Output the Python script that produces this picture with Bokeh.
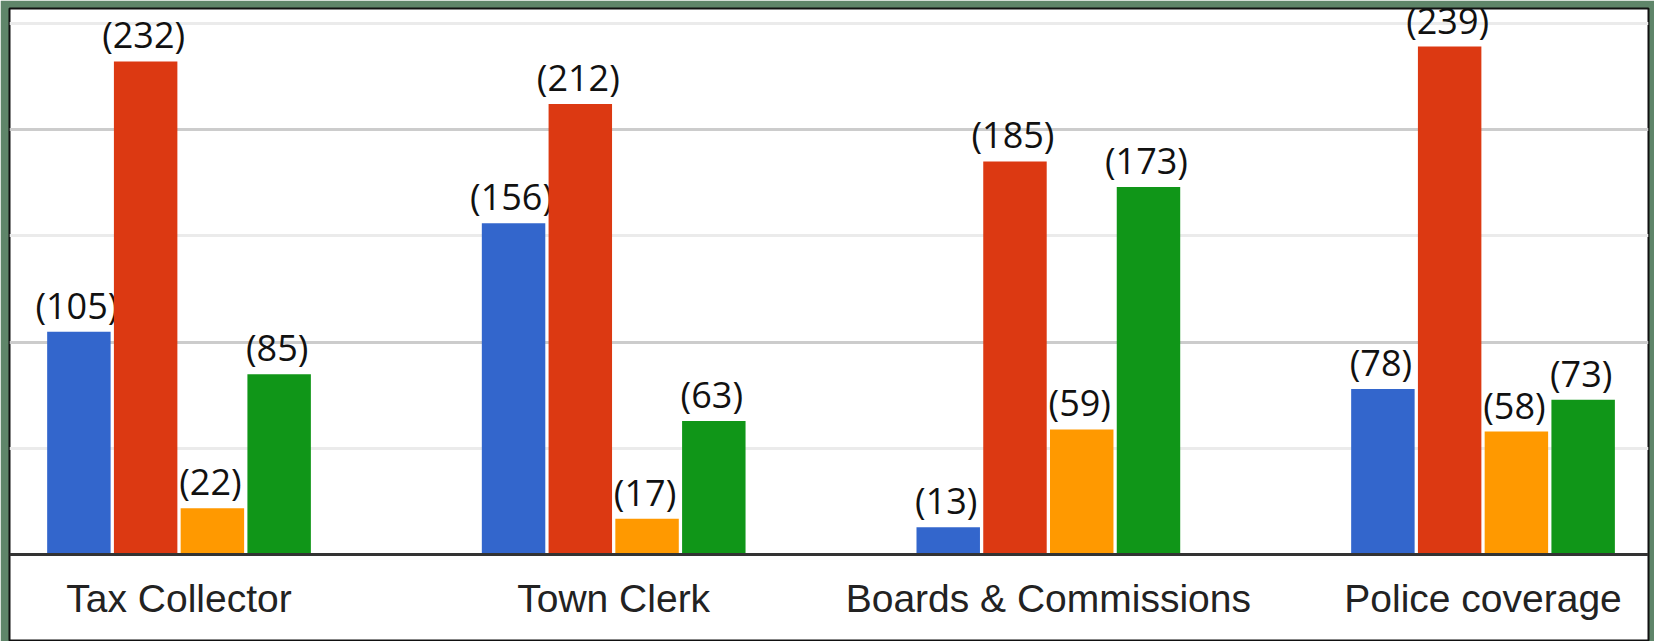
from bokeh.plotting import figure
from bokeh.models import Range1d, LinearAxis, FixedTicker, Grid, ColumnDataSource
from bokeh.core.properties import value
from bokeh.embed import file_html
from bokeh.resources import INLINE
import numpy as np

# ---- data ----
categories = ["Tax Collector", "Town Clerk", "Boards & Commissions", "Police coverage"]
series_names = ["Series 1", "Series 2", "Series 3", "Series 4"]
series_colors = ["#3366cc", "#dc3912", "#ff9900", "#109618"]
series_1 = [105, 156, 13, 78]
series_2 = [232, 212, 185, 239]
series_3 = [22, 17, 59, 58]
series_4 = [85, 63, 173, 73]
all_series = [series_1, series_2, series_3, series_4]
major_grid_ticks = [100, 200]
minor_grid_ticks = [50, 150, 250]

# ---- figure ----
p = figure(
    width=1654, height=641,
    x_range=Range1d(-0.39, 3.3807),
    y_range=Range1d(-40.67, 256.9),
    x_axis_location=None, y_axis_location=None,
    toolbar_location=None, output_backend="svg",
    min_border_left=9, min_border_right=6, min_border_top=8, min_border_bottom=0,
)
p.background_fill_color = "white"
p.border_fill_color = "#5f8569"
p.outline_line_color = "#111111"
p.outline_line_width = 2
p.xgrid.visible = False
p.ygrid.visible = False

grid = Grid(dimension=1, ticker=FixedTicker(ticks=major_grid_ticks, minor_ticks=minor_grid_ticks))
grid.grid_line_color = "#cccccc"
grid.grid_line_width = 3
grid.minor_grid_line_color = "#ebebeb"
grid.minor_grid_line_width = 3
p.add_layout(grid, "center")

slot = 0.15357
bar_w = 0.146
base_x = np.arange(len(categories), dtype=float)
for j, (vals, col, name) in enumerate(zip(all_series, series_colors, series_names)):
    xs = base_x + (j - 1.5) * slot
    src = ColumnDataSource(dict(x=xs, top=vals, label=[f"({v})" for v in vals]))
    p.vbar(x="x", top="top", bottom=0, width=bar_w, source=src,
           fill_color=col, line_color=None)
    p.text(x="x", y="top", text="label", source=src,
           text_align="center", text_baseline="bottom",
           x_offset=-2, y_offset=-2,
           text_font=value("Open Sans"), text_font_size="36px",
           text_color="#111111")

xaxis = LinearAxis(
    ticker=FixedTicker(ticks=list(base_x)),
    major_label_overrides={float(i): c for i, c in enumerate(categories)} | {i: c for i, c in enumerate(categories)},
    fixed_location=0,
)
xaxis.axis_line_color = "#333333"
xaxis.axis_line_width = 3
xaxis.major_tick_line_color = None
xaxis.minor_tick_line_color = None
xaxis.major_label_text_font = "Liberation Sans"
xaxis.major_label_text_font_size = "39px"
xaxis.major_label_text_color = "#222222"
xaxis.major_label_standoff = 16
p.add_layout(xaxis, "below")

open("out.html", "w").write(file_html(p, INLINE))
